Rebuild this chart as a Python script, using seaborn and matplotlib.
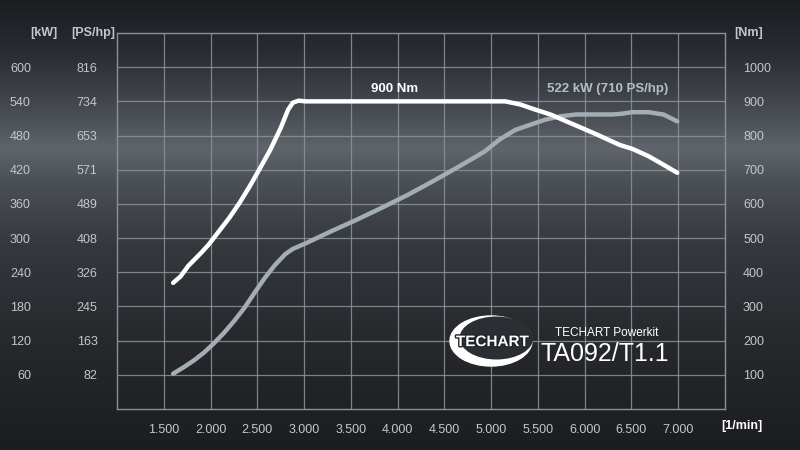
import numpy as np
import matplotlib
matplotlib.use("Agg")
import matplotlib.pyplot as plt
import matplotlib.patheffects as pe
from matplotlib.patches import Ellipse
from matplotlib.colors import LinearSegmentedColormap
import seaborn as sns

# power / torque curves
power_rpm = [1600, 1710, 1820, 1930, 2040, 2140, 2250, 2360, 2470, 2580, 2690, 2800, 2880,
             3020, 3290, 3560, 3840, 4110, 4380, 4660, 4930, 5090, 5260, 5420, 5580, 5750,
             5910, 6070, 6290, 6380, 6510, 6680, 6840, 6990]
power_kw = [62, 73, 85, 99, 116, 133, 154, 177, 204, 230, 253, 272, 281,
            291, 312, 332, 354, 376, 400, 426, 452, 473, 490, 499, 508, 514,
            517, 517, 517, 518, 521, 521, 517, 505]

torque_rpm = [1600, 1680, 1760, 1810, 1900, 1980, 2090, 2200, 2310, 2420, 2530, 2640, 2750,
              2830, 2880, 2940, 3020, 3500, 4000, 4500, 5000, 5150, 5310, 5470, 5640, 5800,
              5970, 6130, 6290, 6380, 6510, 6680, 6840, 6990]
torque_nm = [369, 388, 418, 432, 457, 481, 520, 559, 603, 652, 705, 759, 822,
             876, 896, 902, 900, 900, 900, 900, 900, 900, 891, 876, 861, 842,
             822, 803, 783, 772, 761, 740, 715, 691]

rpm_ticks = [1500, 2000, 2500, 3000, 3500, 4000, 4500, 5000, 5500, 6000, 6500, 7000]
rpm_labels = ["1.500", "2.000", "2.500", "3.000", "3.500", "4.000", "4.500",
              "5.000", "5.500", "6.000", "6.500", "7.000"]
kw_ticks = [60, 120, 180, 240, 300, 360, 420, 480, 540, 600]
ps_labels = ["82", "163", "245", "326", "408", "489", "571", "653", "734", "816"]
nm_ticks = [100, 200, 300, 400, 500, 600, 700, 800, 900, 1000]

sns.set_theme(style="dark")
plt.rcParams["font.family"] = ["Liberation Sans", "DejaVu Sans"]

txt = "#c3c7cd"
grid = "#8e939a"

fig = plt.figure(figsize=(8, 4.5), dpi=100)

# background gradient
bg = fig.add_axes([0, 0, 1, 1], zorder=-5)
cmap = LinearSegmentedColormap.from_list("bg", [
    (0.00, "#1b1d21"), (0.12, "#2a2d32"), (0.26, "#4b4f56"), (0.33, "#60646b"),
    (0.40, "#4c5057"), (0.55, "#34373c"), (0.75, "#27292d"), (1.00, "#1c1d20")])
grad = np.linspace(0, 1, 256).reshape(-1, 1)
bg.imshow(grad, aspect="auto", cmap=cmap, extent=[0, 1, 0, 1], origin="upper")
bg.axis("off")

ax = fig.add_axes([117 / 800, 1 - 409 / 450, 608 / 800, 376 / 450])
ax.set_facecolor("none")
ax2 = ax.twinx()

sns.lineplot(x=power_rpm, y=power_kw, ax=ax, color="#a3adb4", lw=3.2, zorder=3)
sns.lineplot(x=torque_rpm, y=torque_nm, ax=ax2, color="white", lw=3.2, zorder=4)

ax.set_xlim(1000, 7500)
ax.set_ylim(0, 660)
ax2.set_ylim(0, 1100)

ax.set_xticks(rpm_ticks)
ax.set_xticklabels(rpm_labels)
ax.set_yticks(kw_ticks)
ax.set_yticklabels(ps_labels)
ax2.set_yticks(nm_ticks)
ax2.set_yticklabels([str(v) for v in nm_ticks], ha="left")

ax.grid(True, color=grid, lw=0.9, alpha=0.85)
ax2.grid(False)
for a in (ax, ax2):
    for s in a.spines.values():
        s.set_color(grid)
        s.set_linewidth(0.9)
        s.set_alpha(0.85)
ax.tick_params(axis="x", length=0, pad=11, labelsize=9, labelcolor=txt)
ax.tick_params(axis="y", length=0, pad=14, labelsize=9, labelcolor=txt)
ax2.tick_params(axis="y", length=0, pad=13, labelsize=9, labelcolor=txt)
ax.set_xlabel("")
ax.set_ylabel("")
ax2.set_ylabel("")

# kW column further left
sec = ax.secondary_yaxis("left")
sec.set_yticks(kw_ticks)
sec.set_yticklabels([str(v) for v in kw_ticks])
sec.tick_params(length=0, pad=62, labelsize=9, labelcolor=txt)
sec.spines["left"].set_visible(False)

# unit headers
fig.text(44 / 800, 1 - 33 / 450, "[kW]", ha="center", va="center",
         color=txt, fontsize=9, fontweight="bold")
fig.text(93 / 800, 1 - 33 / 450, "[PS/hp]", ha="center", va="center",
         color=txt, fontsize=9, fontweight="bold")
fig.text(749 / 800, 1 - 33 / 450, "[Nm]", ha="center", va="center",
         color=txt, fontsize=9, fontweight="bold")
fig.text(742 / 800, 1 - 426 / 450, "[1/min]", ha="center", va="center",
         color="white", fontsize=9, fontweight="bold")

# curve labels
ax2.text(3970, 937, "900 Nm", ha="center", va="center", color="white",
         fontsize=9.5, fontweight="bold")
ax.text(6250, 562, "522 kW (710 PS/hp)", ha="center", va="center",
        color="#b4bfc6", fontsize=9.5, fontweight="bold")

# logo block
cx, cy = (491 - 117) / 608, (409 - 341) / 376
w, h = 82 / 608, 50 / 376
ax.add_patch(Ellipse((cx, cy), w, h, transform=ax.transAxes, fc="white",
                     ec="white", lw=1.0, zorder=5))
ax.add_patch(Ellipse((cx + 0.009, cy + 0.008), w * 0.9, h * 0.86,
                     transform=ax.transAxes, fc="#2b2e33", ec="none", zorder=6))
ax.text(cx + 0.002, cy - 0.003, "TECHART", transform=ax.transAxes, ha="center",
        va="center", fontsize=11, fontweight="bold", color="white", zorder=7,
        fontstretch="condensed",
        path_effects=[pe.withStroke(linewidth=2, foreground="#222428")])
ax.text((607 - 117) / 608, (409 - 333) / 376, "TECHART Powerkit",
        transform=ax.transAxes, ha="center", va="center", fontsize=8.5,
        color="white", zorder=7)
ax.text((605 - 117) / 608, (409 - 354) / 376, "TA092/T1.1",
        transform=ax.transAxes, ha="center", va="center", fontsize=18,
        color="white", zorder=7)

fig.savefig("out.png", dpi=100)
